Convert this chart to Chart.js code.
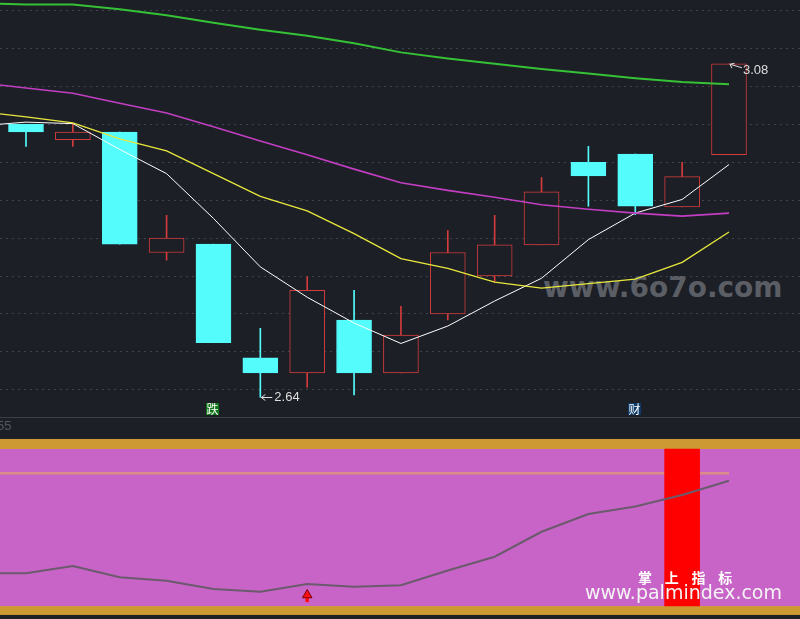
<!DOCTYPE html>
<html><head><meta charset="utf-8">
<script src="https://cdn.jsdelivr.net/npm/chart.js@4/dist/chart.umd.min.js"></script>
<style>
html,body{margin:0;padding:0;background:#1c1f26;width:800px;height:619px;overflow:hidden;}
body{position:relative;}
#cTop{position:absolute;left:0;top:0;z-index:1;}
#cBot{position:absolute;left:0;top:418px;z-index:1;}
#sep{position:absolute;left:0;top:417px;width:800px;height:1px;background:#3b3f48;z-index:1;}
.wm6{position:absolute;left:543px;top:274px;font:bold 28px/28px 'DejaVu Sans';color:#5b5e64;z-index:0;white-space:nowrap;}
.lbl55{position:absolute;left:-3px;top:419px;font:13px/13px 'Liberation Sans';color:#56595f;z-index:2;white-space:nowrap;}
.zs{position:absolute;left:638px;top:570px;font:bold 14px/14px 'Noto Sans CJK SC';color:#ffffff;letter-spacing:4.8px;z-index:3;white-space:pre;}
.pm{position:absolute;left:585px;top:583px;font:19px/19px 'DejaVu Sans';color:#f4f4f4;z-index:3;white-space:nowrap;}
</style></head>
<body>
<div class="wm6">www.6o7o.com</div>
<canvas id="cTop" width="800" height="417"></canvas>
<div id="sep"></div>
<canvas id="cBot" width="800" height="201"></canvas>
<div class="lbl55">55</div>
<div class="zs">掌 上 指 标</div>
<div class="pm">www.palmindex.com</div>
<script>
// ---- data ----
const candleIdx = [0,1,2,3,4,5,6,7,8,9,10,11,12,13,14,15];
const openP  = [3.000,2.980,2.990,2.831,2.842,2.692,2.672,2.742,2.672,2.750,2.800,2.841,2.950,2.961,2.891,2.960];
const closeP = [2.990,2.990,2.842,2.850,2.712,2.672,2.781,2.672,2.722,2.831,2.841,2.911,2.932,2.892,2.931,3.080];
const highP  = [3.000,3.000,2.990,2.880,2.842,2.731,2.799,2.781,2.760,2.860,2.880,2.930,2.971,2.961,2.950,3.080];
const lowP   = [2.971,2.971,2.842,2.821,2.712,2.640,2.653,2.643,2.672,2.742,2.792,2.841,2.892,2.881,2.891,2.960];

const lineIdx = [-1,0,1,2,3,4,5,6,7,8,9,10,11,12,13,14,15];
const ma5  = [2.998,3.003,3.001,2.967,2.935,2.876,2.812,2.772,2.738,2.711,2.734,2.767,2.797,2.848,2.883,2.901,2.947];
const ma10 = [3.017,3.010,3.002,2.981,2.965,2.935,2.905,2.886,2.856,2.823,2.810,2.792,2.784,2.790,2.796,2.818,2.858];
const ma20 = [3.055,3.048,3.041,3.028,3.015,2.997,2.978,2.960,2.941,2.923,2.913,2.904,2.894,2.888,2.883,2.879,2.883];
const ma60 = [3.160,3.158,3.158,3.152,3.144,3.134,3.125,3.117,3.107,3.095,3.087,3.080,3.073,3.067,3.061,3.056,3.053];

const priceGrid = [2.65,2.70,2.75,2.80,2.85,2.90,2.95,3.00,3.05,3.10,3.15];
const priceMin = 2.614, priceMax = 3.1641;
const xMin = -0.5547, xMax = 16.515;

const eventIdx  = [4,13];
const eventText = ['跌','财'];
const eventBg   = ['#0f7417','#0d3a68'];

// lower indicator panel
const oscLine  = [20.8,20.8,25.5,18.3,16.1,10.8,9.1,14.0,12.3,13.2,22.6,31.4,47.3,58.6,63.4,70.7,79.8];
const levelLine = [84.5,84.5,84.5,84.5,84.5,84.5,84.5,84.5,84.5,84.5,84.5,84.5,84.5,84.5,84.5,84.5,84.5];
const signalBarIdx = [14];
const signalBarRange = [0,100];
const arrowIdx = [6];
const arrowHead = [7.0];
const arrowStem = [2.7,5.5];
const pinkBand = [0,100];
const orangeBands = [[100,106.4],[-5.7,0]];
const oscMin = -8.28, oscMax = 119.75;

// ---- colors ----
const BG = '#1c1f26', UP = '#d23c3c', DOWN = '#54fcfc';
const isUp = candleIdx.map(i => closeP[i] >= openP[i]);

const pts = (xs, ys) => xs.map((x,k)=>({x:x, y:ys[k]}));

const topLabels = {
  id:'topLabels',
  afterDatasetsDraw(chart){
    const {ctx, scales:{x,y}} = chart;
    ctx.save();
    ctx.font = "13px 'Liberation Sans'";
    ctx.fillStyle = '#dedede'; ctx.strokeStyle = '#dedede'; ctx.lineWidth = 1;
    ctx.textBaseline = 'middle'; ctx.textAlign = 'left';
    const mn = Math.min(...lowP); const li = lowP.indexOf(mn);
    let px = x.getPixelForValue(candleIdx[li]) + 1, py = Math.round(y.getPixelForValue(mn)) + 0.5;
    ctx.beginPath(); ctx.moveTo(px, py); ctx.lineTo(px+11, py);
    ctx.moveTo(px, py); ctx.lineTo(px+4, py-3); ctx.moveTo(px, py); ctx.lineTo(px+4, py+3); ctx.stroke();
    ctx.fillText(mn.toFixed(2), px+13, py);
    const mx = Math.max(...highP); const hi = highP.indexOf(mx);
    px = x.getPixelForValue(candleIdx[hi]) + 1; py = y.getPixelForValue(mx) + 0.5;
    ctx.beginPath(); ctx.moveTo(px, py); ctx.lineTo(px+12, py+3.5);
    ctx.moveTo(px, py); ctx.lineTo(px+2, py+4); ctx.moveTo(px, py); ctx.lineTo(px+4.5, py-1); ctx.stroke();
    ctx.fillText(mx.toFixed(2), px+13, py+6);
    ctx.font = "12px 'Noto Sans CJK SC'"; ctx.textAlign = 'center';
    eventIdx.forEach((ei,k)=>{
      const cx = Math.round(x.getPixelForValue(ei));
      const top = chart.chartArea.bottom - 14;
      ctx.fillStyle = eventBg[k]; ctx.fillRect(cx-7, top, 13, 12);
      ctx.fillStyle = '#ffffff'; ctx.fillText(eventText[k], cx-0.5, top+6.5);
    });
    ctx.restore();
  }
};

new Chart(document.getElementById('cTop'), {
  type:'bar',
  data:{ datasets:[
    {type:'line', data:pts(lineIdx, ma60), borderColor:'#36c236', borderWidth:2, pointRadius:0, tension:0, order:-4},
    {type:'line', data:pts(lineIdx, ma20), borderColor:'#c23ec2', borderWidth:1.6, pointRadius:0, tension:0, order:-3},
    {type:'line', data:pts(lineIdx, ma10), borderColor:'#e8e83c', borderWidth:1.3, pointRadius:0, tension:0, order:-2},
    {type:'line', data:pts(lineIdx, ma5), borderColor:'#ffffff', borderWidth:1, pointRadius:0, tension:0, order:-1},
    {type:'bar', data:candleIdx.map(i=>({x:i, y:[openP[i], closeP[i]]})),
      backgroundColor:candleIdx.map(i=>isUp[i]?BG:DOWN), borderColor:candleIdx.map(i=>isUp[i]?UP:DOWN),
      borderWidth:1, borderSkipped:false, barThickness:35, grouped:false, order:0},
    {type:'bar', data:candleIdx.map(i=>({x:i, y:[lowP[i], highP[i]]})),
      backgroundColor:candleIdx.map(i=>isUp[i]?UP:DOWN), borderWidth:0, barThickness:1, grouped:false, order:1}
  ]},
  options:{
    responsive:false, animation:false, devicePixelRatio:1, events:[],
    layout:{padding:0, autoPadding:false},
    plugins:{legend:{display:false}, tooltip:{enabled:false}},
    scales:{
      x:{type:'linear', display:false, min:xMin, max:xMax, offset:false, grid:{offset:false}},
      y:{type:'linear', display:true, min:priceMin, max:priceMax, bounds:'data',
         afterBuildTicks:(s)=>{ s.ticks = priceGrid.map(v=>({value:v})); },
         afterFit:(s)=>{ s.width = 0; },
         ticks:{display:false}, grid:{color:'#40444e', lineWidth:1, drawTicks:false},
         border:{display:false, dash:[2,4]}}
    }
  },
  plugins:[topLabels]
});

const bands = {
  id:'bands',
  beforeDatasetsDraw(chart){
    const {ctx, chartArea:a, scales:{y}} = chart;
    ctx.save();
    ctx.fillStyle = '#c864c8';
    ctx.fillRect(a.left, y.getPixelForValue(pinkBand[1]), a.right-a.left, y.getPixelForValue(pinkBand[0]) - y.getPixelForValue(pinkBand[1]));
    ctx.fillStyle = '#cc9933';
    orangeBands.forEach(b=>{
      const t = y.getPixelForValue(b[1]), btm = y.getPixelForValue(b[0]);
      ctx.fillRect(a.left, t, a.right-a.left, btm-t);
    });
    ctx.restore();
  }
};

new Chart(document.getElementById('cBot'), {
  type:'bar',
  data:{ datasets:[
    {type:'line', data:pts(lineIdx, levelLine), borderColor:'#dc8c86', borderWidth:2.5, pointRadius:0, tension:0, order:3},
    {type:'bar', data:signalBarIdx.map(i=>({x:i, y:signalBarRange})), backgroundColor:'#ff0000', borderWidth:0, barThickness:35, grouped:false, order:2},
    {type:'line', data:pts(lineIdx, oscLine), borderColor:'#6a5a6c', borderWidth:2, pointRadius:0, tension:0, order:1},
    {type:'bar', data:arrowIdx.map(i=>({x:i, y:arrowStem})), backgroundColor:'#ff1010', borderWidth:0, barThickness:3, grouped:false, order:0},
    {type:'scatter', data:pts(arrowIdx, arrowHead), pointStyle:'triangle', pointRadius:5.5, backgroundColor:'#ff1010', borderColor:'#7a0000', borderWidth:1, order:-1}
  ]},
  options:{
    responsive:false, animation:false, devicePixelRatio:1, events:[],
    layout:{padding:0, autoPadding:false},
    plugins:{legend:{display:false}, tooltip:{enabled:false}},
    scales:{
      x:{type:'linear', display:false, min:xMin, max:xMax, offset:false, grid:{offset:false}},
      y:{type:'linear', display:false, min:oscMin, max:oscMax}
    }
  },
  plugins:[bands]
});
</script>
</body></html>
